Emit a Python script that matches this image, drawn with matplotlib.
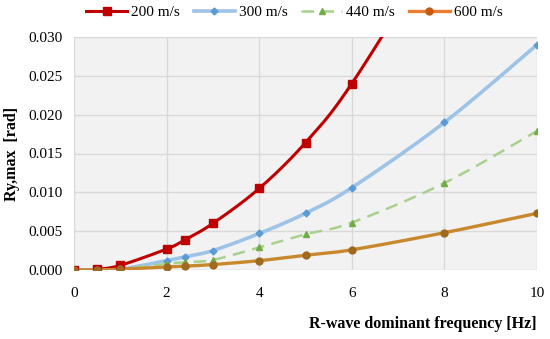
import numpy as np
import matplotlib
matplotlib.use("Agg")
import matplotlib.pyplot as plt

freq = [0, 0.5, 1, 2, 2.4, 3, 4, 5, 6, 8, 10]
v200 = [0.0, 0.0001, 0.0006, 0.0027, 0.0039, 0.0060, 0.0105, 0.0164, 0.0240, 0.0430]
v300 = [0.0, 0.0, 0.0001, 0.0012, 0.0017, 0.0025, 0.0047, 0.0073, 0.0106, 0.0190, 0.0290]
v440 = [0.0, 0.0, 0.0001, 0.0008, 0.0010, 0.0013, 0.0029, 0.0046, 0.0061, 0.0112, 0.0179]
v600 = [0.0, 0.0, 0.0001, 0.0004, 0.0005, 0.0007, 0.0012, 0.0019, 0.0026, 0.0048, 0.0073]
labels = ["200 m/s", "300 m/s", "440 m/s", "600 m/s"]


def smooth(x, y, n=30):
    x = np.asarray(x, float); y = np.asarray(y, float)
    P = np.column_stack([x, y])
    P = np.vstack([P[0], P, P[-1]])
    out = []
    for i in range(1, len(P) - 2):
        p0, p1, p2, p3 = P[i - 1], P[i], P[i + 1], P[i + 2]
        t = np.linspace(0, 1, n)[:, None]
        c = 0.5 * ((2 * p1) + (-p0 + p2) * t + (2 * p0 - 5 * p1 + 4 * p2 - p3) * t ** 2
                   + (-p0 + 3 * p1 - 3 * p2 + p3) * t ** 3)
        out.append(c)
    c = np.vstack(out)
    return c[:, 0], c[:, 1]


plt.rcParams['font.family'] = ['Liberation Serif', 'DejaVu Serif']
fig = plt.figure(figsize=(5.5, 3.39), dpi=100)
ax = fig.add_axes([74 / 550, 1 - 270 / 339, (537 - 74) / 550, (270 - 37) / 339])
ax.set_facecolor('#F2F2F2')

series = [
    (v200, '#C00000', '#C00000', 's', '-', 2.2, 5.5),
    (v300, '#9DC3E6', '#5B9BD5', 'D', '-', 2.6, 3.5),
    (v440, '#A9D18E', '#70AD47', '^', (0, (5, 3)), 1.8, 5),
    (v600, '#C8892E', '#A06A1E', 'o', '-', 2.4, 5),
]
legend_line = ['#C00000', '#9DC3E6', '#A9D18E', '#ED7D31']
legend_mk = ['#C00000', '#5B9BD5', '#70AD47', '#C55A11']
handles = []
for (vals, lc, mc, mk, ls, lw, ms), lab, llc, lmc in zip(series, labels, legend_line, legend_mk):
    xs = freq[:len(vals)]
    sx, sy = smooth(xs, vals)
    ax.plot(sx, sy, color=lc, lw=lw, ls=ls, zorder=3, clip_on=True)
    ax.plot(xs, vals, ls='none', marker=mk, ms=ms, color=mc, zorder=4, clip_on=True)
    h, = ax.plot([], [], color=llc, lw=lw, ls=ls, marker=mk, ms=ms, mfc=lmc, mec=lmc)
    handles.append(h)

ax.set_xlim(0, 10)
ax.set_ylim(0, 0.030)
ax.set_xticks([0, 2, 4, 6, 8, 10])
ax.set_yticks(np.arange(0, 0.0301, 0.005))
ax.set_yticklabels([f"{v:.3f}" for v in np.arange(0, 0.0301, 0.005)])
ax.grid(True, color='#D9D9D9', lw=1)
ax.set_axisbelow(True)
for s in ax.spines.values():
    s.set_visible(False)
ax.tick_params(length=0, labelsize=11, pad=8)
ax.tick_params(axis='x', pad=12)
ax.set_ylabel("Ry,max  [rad]", fontsize=11.5, fontweight='bold', labelpad=6)
fig.text(537 / 550, 1 - 324 / 339, "R-wave dominant frequency [Hz]", ha='right', va='center',
         fontsize=11.5, fontweight='bold')
fig.legend(handles, labels, loc='center', bbox_to_anchor=(0.535, 1 - 12 / 339), ncol=4,
           frameon=False, fontsize=11, handlelength=2.7, columnspacing=0.9, handletextpad=0.25)
fig.savefig('out.png', dpi=100)
